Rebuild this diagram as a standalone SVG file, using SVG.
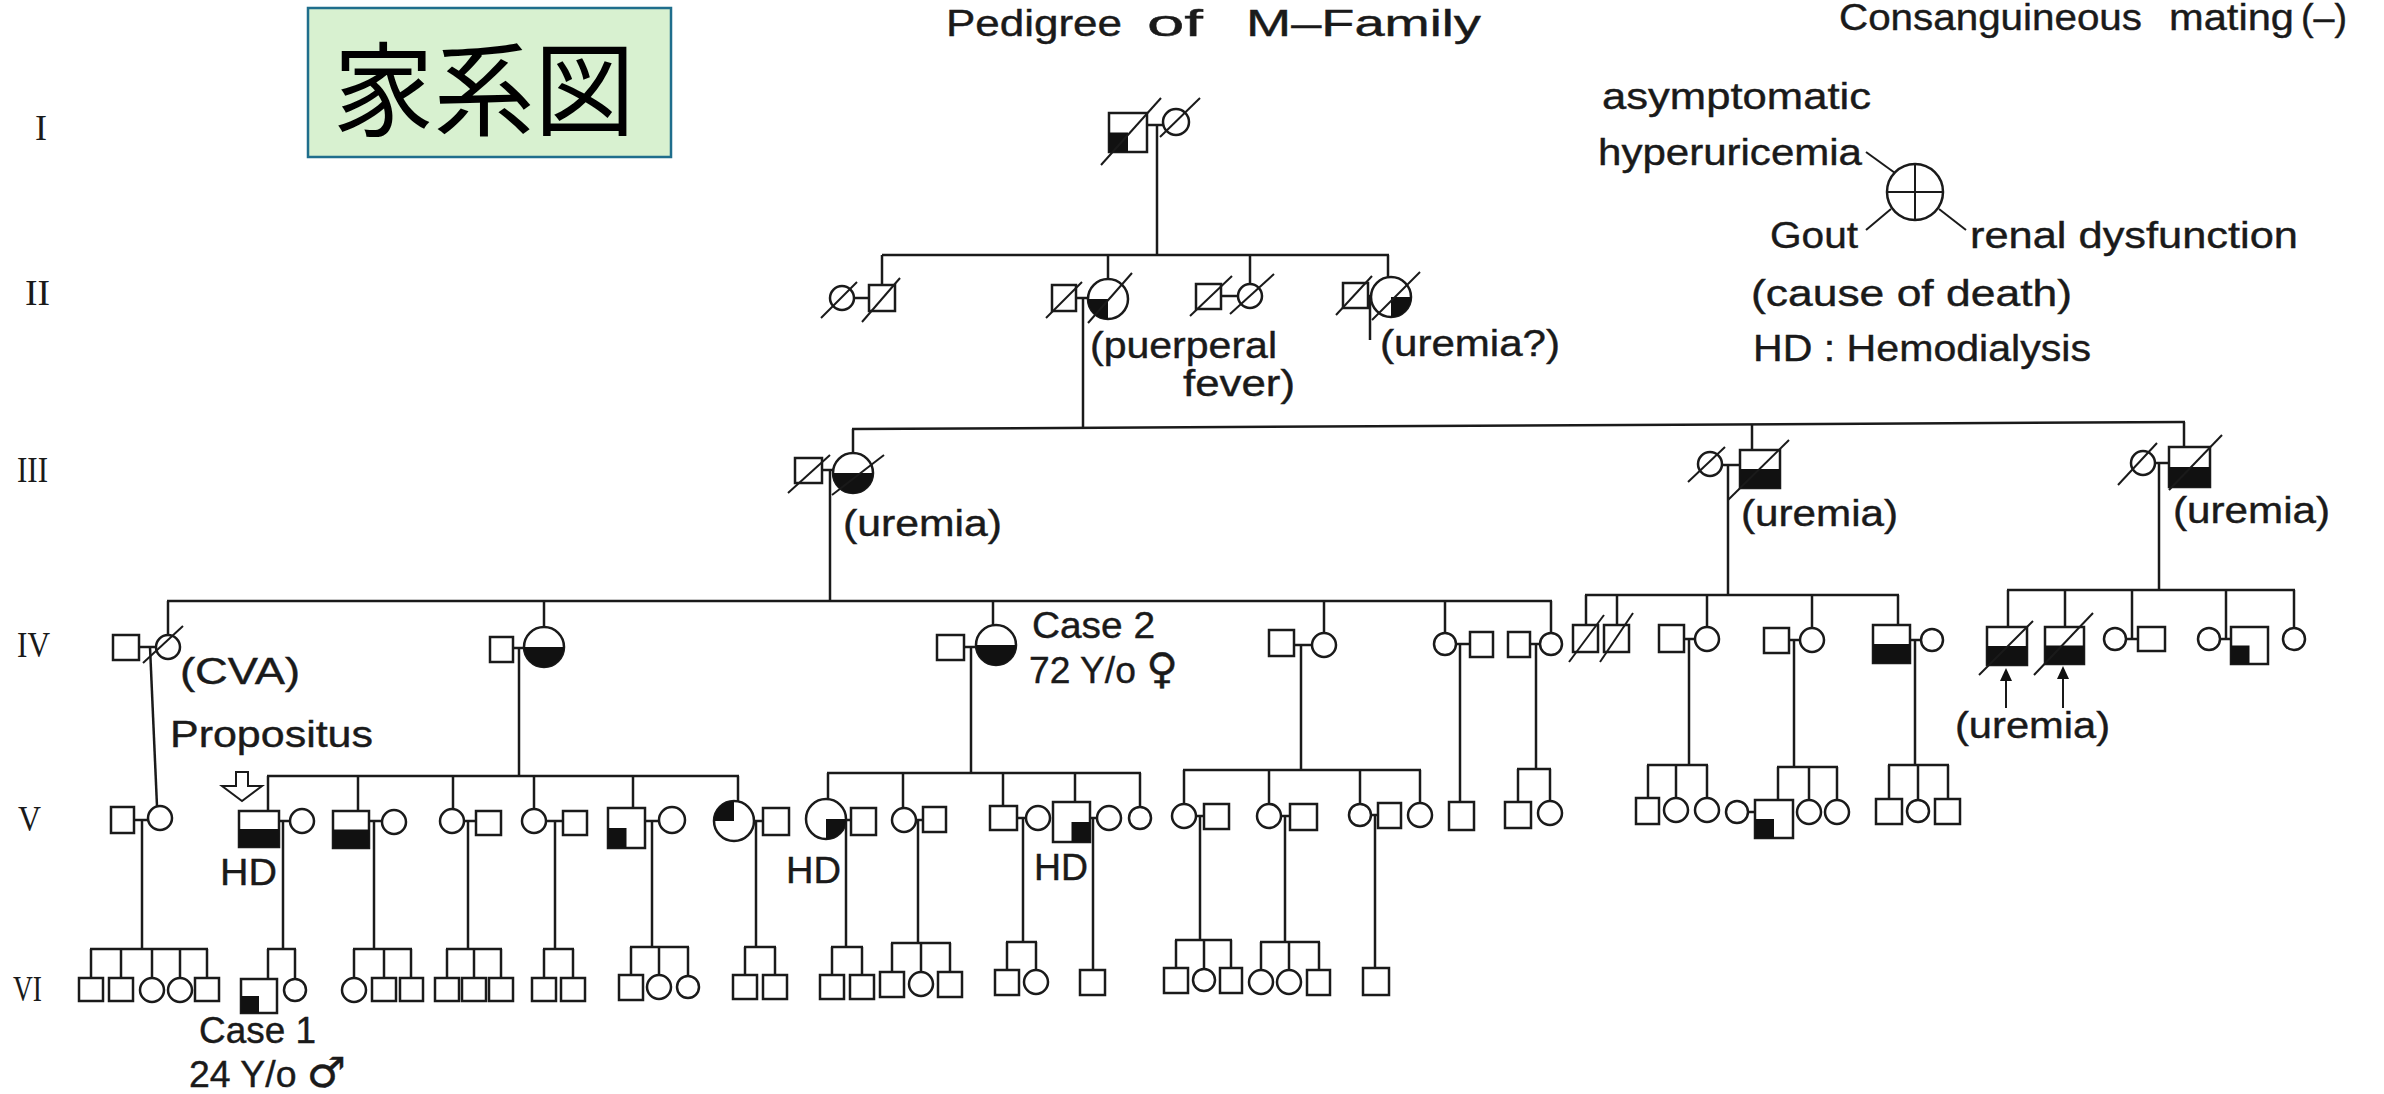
<svg xmlns="http://www.w3.org/2000/svg" width="2384" height="1094" viewBox="0 0 2384 1094">
<style>
.s{fill:#fff;stroke:#1a1a1a;stroke-width:2.5}
.b{fill:#111;stroke:none}
.d{stroke:#1a1a1a;stroke-width:2}
.c line{stroke:#1a1a1a;stroke-width:2.5}
.t{font-family:"Liberation Sans",Arial,"DejaVu Sans",sans-serif;font-size:36px;fill:#1a1a1a;stroke:#1a1a1a;stroke-width:0.4}
.r{font-family:"Liberation Serif","Times New Roman",serif;font-size:36px;fill:#1a1a1a}
.ln{stroke:#1a1a1a;stroke-width:2;fill:none}
.sym{font-family:"DejaVu Sans",sans-serif;font-size:42px}
</style>
<rect width="2384" height="1094" fill="#fff"/>

<g id="title-box">
<rect x="308" y="8" width="363" height="149" fill="#d8f1d0" stroke="#1f6e8c" stroke-width="2.5"/>
<text x="333" y="128" font-family="Noto Sans CJK JP,Noto Sans CJK SC,sans-serif" font-size="102" textLength="302" lengthAdjust="spacingAndGlyphs" fill="#000">家系図</text>
</g>

<g id="headings">
<text class="t" y="36" font-size="40"><tspan x="946" textLength="176" lengthAdjust="spacingAndGlyphs">Pedigree</tspan><tspan x="1147" textLength="56" lengthAdjust="spacingAndGlyphs">of</tspan><tspan x="1246" textLength="235" lengthAdjust="spacingAndGlyphs">M–Family</tspan></text>
<text class="t" y="30" font-size="26"><tspan x="1839" textLength="303" lengthAdjust="spacingAndGlyphs">Consanguineous</tspan><tspan x="2169" textLength="125" lengthAdjust="spacingAndGlyphs">mating</tspan><tspan x="2301" textLength="46" lengthAdjust="spacingAndGlyphs">(–)</tspan></text>
</g>

<g id="generation-labels">
<text class="r" x="41" y="140" text-anchor="middle">I</text>
<text class="r" x="25" y="305" textLength="25" lengthAdjust="spacingAndGlyphs">II</text>
<text class="r" x="17" y="482" textLength="31" lengthAdjust="spacingAndGlyphs">III</text>
<text class="r" x="17" y="657" textLength="33" lengthAdjust="spacingAndGlyphs">IV</text>
<text class="r" x="18" y="831" textLength="23" lengthAdjust="spacingAndGlyphs">V</text>
<text class="r" x="13" y="1001" textLength="29" lengthAdjust="spacingAndGlyphs">VI</text>
</g>

<g id="legend">
<text class="t" x="1602" y="109" textLength="269" lengthAdjust="spacingAndGlyphs">asymptomatic</text>
<text class="t" x="1598" y="165" textLength="264" lengthAdjust="spacingAndGlyphs">hyperuricemia</text>
<circle cx="1915" cy="192" r="28" class="s"/>
<line class="d" x1="1915" y1="164" x2="1915" y2="220"/>
<line class="d" x1="1887" y1="192" x2="1943" y2="192"/>
<line class="d" x1="1866" y1="152" x2="1895" y2="173"/>
<line class="d" x1="1891" y1="209" x2="1866" y2="230"/>
<line class="d" x1="1939" y1="209" x2="1966" y2="230"/>
<text class="t" x="1770" y="248" textLength="88" lengthAdjust="spacingAndGlyphs">Gout</text>
<text class="t" x="1970" y="248" textLength="328" lengthAdjust="spacingAndGlyphs">renal dysfunction</text>
<text class="t" x="1751" y="306" textLength="321" lengthAdjust="spacingAndGlyphs">(cause of death)</text>
<text class="t" x="1753" y="361" textLength="338" lengthAdjust="spacingAndGlyphs">HD : Hemodialysis</text>
</g>

<g id="connectors" class="c">
<line x1="1147" y1="125" x2="1163" y2="125"/>
<line x1="1157" y1="125" x2="1157" y2="255"/>
<line x1="882" y1="255" x2="1389" y2="255"/>
<line x1="882" y1="255" x2="882" y2="285"/>
<line x1="854" y1="298" x2="869" y2="298"/>
<line x1="1108" y1="255" x2="1108" y2="279"/>
<line x1="1076" y1="298" x2="1088" y2="298"/>
<line x1="1083" y1="298" x2="1083" y2="428"/>
<line x1="1250" y1="255" x2="1250" y2="284"/>
<line x1="1221" y1="296" x2="1238" y2="296"/>
<line x1="1388" y1="255" x2="1388" y2="277"/>
<line x1="1368" y1="296" x2="1372" y2="296"/>
<line x1="1370" y1="296" x2="1370" y2="340"/>
<line x1="852" y1="429" x2="2185" y2="422"/>
<line x1="853" y1="429" x2="853" y2="453"/>
<line x1="822" y1="470" x2="833" y2="470"/>
<line x1="830" y1="470" x2="830" y2="601"/>
<line x1="1752" y1="424" x2="1752" y2="450"/>
<line x1="1722" y1="465" x2="1740" y2="465"/>
<line x1="1728" y1="465" x2="1728" y2="595"/>
<line x1="2184" y1="422" x2="2184" y2="447"/>
<line x1="2155" y1="463" x2="2169" y2="463"/>
<line x1="2159" y1="463" x2="2159" y2="590"/>
<line x1="167" y1="601" x2="1552" y2="601"/>
<line x1="168" y1="601" x2="168" y2="635"/>
<line x1="139" y1="647" x2="156" y2="647"/>
<line x1="150" y1="647" x2="157" y2="806"/>
<line x1="544" y1="601" x2="544" y2="627"/>
<line x1="513" y1="648" x2="524" y2="648"/>
<line x1="519" y1="648" x2="519" y2="776"/>
<line x1="993" y1="601" x2="993" y2="625"/>
<line x1="964" y1="647" x2="976" y2="647"/>
<line x1="971" y1="647" x2="971" y2="773"/>
<line x1="1324" y1="601" x2="1324" y2="633"/>
<line x1="1294" y1="645" x2="1312" y2="645"/>
<line x1="1301" y1="645" x2="1301" y2="770"/>
<line x1="1445" y1="601" x2="1445" y2="633"/>
<line x1="1456" y1="644" x2="1470" y2="644"/>
<line x1="1460" y1="644" x2="1460" y2="802"/>
<line x1="1551" y1="601" x2="1551" y2="633"/>
<line x1="1530" y1="644" x2="1540" y2="644"/>
<line x1="1536" y1="644" x2="1536" y2="769"/>
<line x1="1585" y1="595" x2="1899" y2="595"/>
<line x1="1586" y1="595" x2="1586" y2="625"/>
<line x1="1617" y1="595" x2="1617" y2="625"/>
<line x1="1707" y1="595" x2="1707" y2="627"/>
<line x1="1684" y1="639" x2="1695" y2="639"/>
<line x1="1689" y1="639" x2="1689" y2="765"/>
<line x1="1812" y1="595" x2="1812" y2="628"/>
<line x1="1789" y1="640" x2="1800" y2="640"/>
<line x1="1794" y1="640" x2="1794" y2="767"/>
<line x1="1898" y1="595" x2="1898" y2="625"/>
<line x1="1910" y1="640" x2="1921" y2="640"/>
<line x1="1915" y1="640" x2="1915" y2="765"/>
<line x1="2007" y1="590" x2="2295" y2="590"/>
<line x1="2008" y1="590" x2="2008" y2="627"/>
<line x1="2065" y1="590" x2="2065" y2="627"/>
<line x1="2132" y1="590" x2="2132" y2="639"/>
<line x1="2126" y1="639" x2="2138" y2="639"/>
<line x1="2226" y1="590" x2="2226" y2="639"/>
<line x1="2220" y1="639" x2="2231" y2="639"/>
<line x1="2294" y1="590" x2="2294" y2="628"/>
<line x1="134" y1="820" x2="148" y2="820"/>
<line x1="142" y1="820" x2="142" y2="949"/>
<line x1="90" y1="949" x2="208" y2="949"/>
<line x1="91" y1="949" x2="91" y2="978"/>
<line x1="121" y1="949" x2="121" y2="978"/>
<line x1="152" y1="949" x2="152" y2="978"/>
<line x1="180" y1="949" x2="180" y2="978"/>
<line x1="207" y1="949" x2="207" y2="978"/>
<line x1="267" y1="776" x2="739" y2="776"/>
<line x1="268" y1="776" x2="268" y2="811"/>
<line x1="279" y1="821" x2="290" y2="821"/>
<line x1="283" y1="821" x2="283" y2="949"/>
<line x1="267" y1="949" x2="296" y2="949"/>
<line x1="268" y1="949" x2="268" y2="979"/>
<line x1="295" y1="949" x2="295" y2="979"/>
<line x1="358" y1="776" x2="358" y2="811"/>
<line x1="369" y1="821" x2="382" y2="821"/>
<line x1="374" y1="821" x2="374" y2="949"/>
<line x1="353" y1="949" x2="412" y2="949"/>
<line x1="354" y1="949" x2="354" y2="978"/>
<line x1="384" y1="949" x2="384" y2="978"/>
<line x1="411" y1="949" x2="411" y2="978"/>
<line x1="453" y1="776" x2="453" y2="809"/>
<line x1="464" y1="821" x2="476" y2="821"/>
<line x1="468" y1="821" x2="468" y2="949"/>
<line x1="446" y1="949" x2="502" y2="949"/>
<line x1="447" y1="949" x2="447" y2="978"/>
<line x1="474" y1="949" x2="474" y2="978"/>
<line x1="501" y1="949" x2="501" y2="978"/>
<line x1="534" y1="776" x2="534" y2="809"/>
<line x1="546" y1="821" x2="563" y2="821"/>
<line x1="555" y1="821" x2="555" y2="949"/>
<line x1="543" y1="949" x2="574" y2="949"/>
<line x1="544" y1="949" x2="544" y2="978"/>
<line x1="573" y1="949" x2="573" y2="978"/>
<line x1="633" y1="776" x2="633" y2="808"/>
<line x1="645" y1="821" x2="659" y2="821"/>
<line x1="652" y1="821" x2="652" y2="947"/>
<line x1="630" y1="947" x2="689" y2="947"/>
<line x1="631" y1="947" x2="631" y2="975"/>
<line x1="659" y1="947" x2="659" y2="975"/>
<line x1="688" y1="947" x2="688" y2="976"/>
<line x1="738" y1="776" x2="738" y2="801"/>
<line x1="754" y1="821" x2="763" y2="821"/>
<line x1="756" y1="821" x2="756" y2="947"/>
<line x1="744" y1="947" x2="776" y2="947"/>
<line x1="745" y1="947" x2="745" y2="975"/>
<line x1="775" y1="947" x2="775" y2="975"/>
<line x1="827" y1="773" x2="1141" y2="773"/>
<line x1="828" y1="773" x2="828" y2="799"/>
<line x1="846" y1="820" x2="851" y2="820"/>
<line x1="846" y1="820" x2="846" y2="947"/>
<line x1="831" y1="947" x2="863" y2="947"/>
<line x1="832" y1="947" x2="832" y2="975"/>
<line x1="862" y1="947" x2="862" y2="975"/>
<line x1="903" y1="773" x2="903" y2="808"/>
<line x1="916" y1="820" x2="923" y2="820"/>
<line x1="918" y1="820" x2="918" y2="943"/>
<line x1="891" y1="943" x2="951" y2="943"/>
<line x1="892" y1="943" x2="892" y2="972"/>
<line x1="921" y1="943" x2="921" y2="972"/>
<line x1="950" y1="943" x2="950" y2="972"/>
<line x1="1003" y1="773" x2="1003" y2="806"/>
<line x1="1017" y1="818" x2="1026" y2="818"/>
<line x1="1023" y1="818" x2="1023" y2="942"/>
<line x1="1006" y1="942" x2="1037" y2="942"/>
<line x1="1007" y1="942" x2="1007" y2="970"/>
<line x1="1036" y1="942" x2="1036" y2="970"/>
<line x1="1075" y1="773" x2="1075" y2="802"/>
<line x1="1090" y1="818" x2="1097" y2="818"/>
<line x1="1093" y1="818" x2="1093" y2="970"/>
<line x1="1140" y1="773" x2="1140" y2="807"/>
<line x1="1183" y1="770" x2="1421" y2="770"/>
<line x1="1184" y1="770" x2="1184" y2="804"/>
<line x1="1196" y1="816" x2="1204" y2="816"/>
<line x1="1200" y1="816" x2="1200" y2="940"/>
<line x1="1175" y1="940" x2="1232" y2="940"/>
<line x1="1176" y1="940" x2="1176" y2="968"/>
<line x1="1204" y1="940" x2="1204" y2="969"/>
<line x1="1231" y1="940" x2="1231" y2="968"/>
<line x1="1269" y1="770" x2="1269" y2="804"/>
<line x1="1281" y1="816" x2="1290" y2="816"/>
<line x1="1285" y1="816" x2="1285" y2="942"/>
<line x1="1260" y1="942" x2="1320" y2="942"/>
<line x1="1261" y1="942" x2="1261" y2="970"/>
<line x1="1289" y1="942" x2="1289" y2="970"/>
<line x1="1319" y1="942" x2="1319" y2="970"/>
<line x1="1360" y1="770" x2="1360" y2="804"/>
<line x1="1371" y1="815" x2="1378" y2="815"/>
<line x1="1375" y1="815" x2="1375" y2="968"/>
<line x1="1420" y1="770" x2="1420" y2="803"/>
<line x1="1517" y1="769" x2="1551" y2="769"/>
<line x1="1518" y1="769" x2="1518" y2="802"/>
<line x1="1550" y1="769" x2="1550" y2="801"/>
<line x1="1647" y1="765" x2="1708" y2="765"/>
<line x1="1648" y1="765" x2="1648" y2="798"/>
<line x1="1676" y1="765" x2="1676" y2="798"/>
<line x1="1707" y1="765" x2="1707" y2="798"/>
<line x1="1748" y1="812" x2="1755" y2="812"/>
<line x1="1777" y1="767" x2="1838" y2="767"/>
<line x1="1778" y1="767" x2="1778" y2="800"/>
<line x1="1809" y1="767" x2="1809" y2="800"/>
<line x1="1837" y1="767" x2="1837" y2="800"/>
<line x1="1888" y1="765" x2="1949" y2="765"/>
<line x1="1889" y1="765" x2="1889" y2="799"/>
<line x1="1918" y1="765" x2="1918" y2="800"/>
<line x1="1948" y1="765" x2="1948" y2="799"/>
</g>

<g id="I-1"><rect class="s" x="1109" y="113" width="38" height="39"/><rect class="b" x="1109" y="132.5" width="19" height="19.5"/><line class="d" x1="1101" y1="165" x2="1161" y2="98"/></g>
<g id="I-2"><circle class="s" cx="1176" cy="122" r="13"/><line class="d" x1="1160" y1="137" x2="1200" y2="98"/></g>

<g id="II-1s"><circle class="s" cx="842" cy="298" r="12"/><line class="d" x1="821" y1="318" x2="857" y2="282"/></g>
<g id="II-1"><rect class="s" x="869" y="285" width="26" height="26"/><line class="d" x1="862" y1="322" x2="900" y2="278"/></g>
<g id="II-2s"><rect class="s" x="1052" y="285" width="24" height="26"/><line class="d" x1="1046" y1="318" x2="1082" y2="282"/></g>
<g id="II-2"><circle class="s" cx="1108" cy="299" r="20"/><path class="b" d="M1108,299 L1088,299 A20,20 0 0 0 1108,319 Z"/><line class="d" x1="1088" y1="323" x2="1132" y2="273"/></g>
<g id="II-3s"><rect class="s" x="1196" y="284" width="25" height="25"/><line class="d" x1="1190" y1="316" x2="1232" y2="276"/></g>
<g id="II-3"><circle class="s" cx="1250" cy="296" r="12"/><line class="d" x1="1230" y1="314" x2="1274" y2="274"/></g>
<g id="II-4s"><rect class="s" x="1343" y="283" width="25" height="25"/><line class="d" x1="1336" y1="315" x2="1372" y2="276"/></g>
<g id="II-4"><circle class="s" cx="1391" cy="297" r="20"/><path class="b" d="M1391,297 L1391,317 A20,20 0 0 0 1411,297 Z"/><line class="d" x1="1372" y1="320" x2="1420" y2="272"/></g>
<g id="labels-II">
<text class="t" x="1090" y="358" textLength="187" lengthAdjust="spacingAndGlyphs">(puerperal</text>
<text class="t" x="1183" y="396" textLength="112" lengthAdjust="spacingAndGlyphs">fever)</text>
<text class="t" x="1380" y="356" textLength="180" lengthAdjust="spacingAndGlyphs">(uremia?)</text>
</g>

<g id="III-1s"><rect class="s" x="795" y="458" width="27" height="25"/><line class="d" x1="788" y1="493" x2="830" y2="455"/></g>
<g id="III-1"><circle class="s" cx="853" cy="473" r="20"/><path class="b" d="M833,473 A20,20 0 0 0 873,473 Z"/><line class="d" x1="832" y1="495" x2="884" y2="455"/></g>
<g id="III-2s"><circle class="s" cx="1710" cy="464" r="12"/><line class="d" x1="1688" y1="482" x2="1725" y2="447"/></g>
<g id="III-2"><rect class="s" x="1740" y="450" width="40" height="38"/><rect class="b" x="1740" y="469" width="40" height="19"/><line class="d" x1="1728" y1="500" x2="1789" y2="440"/></g>
<g id="III-3s"><circle class="s" cx="2143" cy="463" r="12"/><line class="d" x1="2118" y1="485" x2="2157" y2="443"/></g>
<g id="III-3"><rect class="s" x="2169" y="447" width="41" height="40"/><rect class="b" x="2169" y="467" width="41" height="20"/><line class="d" x1="2169" y1="490" x2="2222" y2="435"/></g>
<g id="labels-III">
<text class="t" x="843" y="536" textLength="159" lengthAdjust="spacingAndGlyphs">(uremia)</text>
<text class="t" x="1741" y="526" textLength="157" lengthAdjust="spacingAndGlyphs">(uremia)</text>
<text class="t" x="2173" y="523" textLength="157" lengthAdjust="spacingAndGlyphs">(uremia)</text>
</g>

<g id="IV-1s"><rect class="s" x="113" y="635" width="26" height="25"/></g>
<g id="IV-1"><circle class="s" cx="168" cy="647" r="12"/><line class="d" x1="143" y1="663" x2="183" y2="626"/></g>
<g id="IV-2s"><rect class="s" x="490" y="637" width="23" height="25"/></g>
<g id="IV-2"><circle class="s" cx="544" cy="647" r="20"/><path class="b" d="M524,647 A20,20 0 0 0 564,647 Z"/></g>
<g id="IV-3s"><rect class="s" x="937" y="635" width="27" height="25"/></g>
<g id="IV-3"><circle class="s" cx="996" cy="645" r="20"/><path class="b" d="M976,645 A20,20 0 0 0 1016,645 Z"/></g>
<g id="IV-4s"><rect class="s" x="1269" y="630" width="25" height="26"/></g>
<g id="IV-4"><circle class="s" cx="1324" cy="645" r="12"/></g>
<g id="IV-5"><circle class="s" cx="1445" cy="644" r="11"/></g>
<g id="IV-5s"><rect class="s" x="1470" y="632" width="23" height="25"/></g>
<g id="IV-6s"><rect class="s" x="1508" y="632" width="22" height="25"/></g>
<g id="IV-6"><circle class="s" cx="1551" cy="644" r="11"/></g>
<g id="IV-7"><rect class="s" x="1573" y="625" width="25" height="27"/><line class="d" x1="1569" y1="662" x2="1604" y2="615"/></g>
<g id="IV-8"><rect class="s" x="1604" y="625" width="25" height="27"/><line class="d" x1="1600" y1="662" x2="1633" y2="613"/></g>
<g id="IV-9s"><rect class="s" x="1659" y="625" width="25" height="27"/></g>
<g id="IV-9"><circle class="s" cx="1707" cy="639" r="12"/></g>
<g id="IV-10s"><rect class="s" x="1764" y="628" width="25" height="25"/></g>
<g id="IV-10"><circle class="s" cx="1812" cy="640" r="12"/></g>
<g id="IV-11"><rect class="s" x="1873" y="625" width="37" height="38"/><rect class="b" x="1873" y="644" width="37" height="19"/></g>
<g id="IV-11s"><circle class="s" cx="1932" cy="640" r="11"/></g>
<g id="IV-12"><rect class="s" x="1987" y="627" width="40" height="38"/><rect class="b" x="1987" y="646" width="40" height="19"/><line class="d" x1="1979" y1="675" x2="2033" y2="621"/></g>
<g id="IV-13"><rect class="s" x="2045" y="627" width="39" height="37"/><rect class="b" x="2045" y="645.5" width="39" height="18.5"/><line class="d" x1="2034" y1="675" x2="2093" y2="613"/></g>
<g id="IV-14"><circle class="s" cx="2115" cy="639" r="11"/></g>
<g id="IV-14s"><rect class="s" x="2138" y="627" width="27" height="24"/></g>
<g id="IV-15s"><circle class="s" cx="2209" cy="639" r="11"/></g>
<g id="IV-15"><rect class="s" x="2231" y="627" width="37" height="37"/><rect class="b" x="2231" y="645.5" width="18.5" height="18.5"/></g>
<g id="IV-16"><circle class="s" cx="2294" cy="639" r="11"/></g>
<g id="labels-IV">
<text class="t" x="180" y="684" textLength="120" lengthAdjust="spacingAndGlyphs">(CVA)</text>
<text class="t" x="1032" y="638" textLength="123" lengthAdjust="spacingAndGlyphs">Case 2</text>
<text class="t" x="1029" y="683" textLength="149" lengthAdjust="spacingAndGlyphs">72 Y/o <tspan class="sym">♀</tspan></text>
<line class="d" x1="2006" y1="708" x2="2006" y2="678"/><path class="b" d="M2000,681 L2012,681 L2006,668 Z"/>
<line class="d" x1="2063" y1="708" x2="2063" y2="676"/><path class="b" d="M2057,679 L2069,679 L2063,666 Z"/>
<text class="t" x="1955" y="738" textLength="155" lengthAdjust="spacingAndGlyphs">(uremia)</text>
</g>

<g id="V-1s"><rect class="s" x="111" y="807" width="23" height="26"/></g>
<g id="V-1"><circle class="s" cx="160" cy="818" r="12"/></g>
<g id="V-2"><rect class="s" x="239" y="811" width="40" height="36"/><rect class="b" x="239" y="829" width="40" height="18"/></g>
<g id="V-2s"><circle class="s" cx="302" cy="821" r="12"/></g>
<g id="V-3"><rect class="s" x="333" y="811" width="36" height="37"/><rect class="b" x="333" y="829.5" width="36" height="18.5"/></g>
<g id="V-3s"><circle class="s" cx="394" cy="822" r="12"/></g>
<g id="V-4"><circle class="s" cx="452" cy="821" r="12"/></g>
<g id="V-4s"><rect class="s" x="476" y="811" width="25" height="24"/></g>
<g id="V-5"><circle class="s" cx="534" cy="821" r="12"/></g>
<g id="V-5s"><rect class="s" x="563" y="811" width="24" height="24"/></g>
<g id="V-6"><rect class="s" x="608" y="808" width="37" height="40"/><rect class="b" x="608" y="828" width="18.5" height="20"/></g>
<g id="V-6s"><circle class="s" cx="672" cy="820" r="13"/></g>
<g id="V-7"><circle class="s" cx="734" cy="821" r="20"/><path class="b" d="M734,821 L734,801 A20,20 0 0 0 714,821 Z"/></g>
<g id="V-7s"><rect class="s" x="763" y="808" width="26" height="27"/></g>
<g id="V-8"><circle class="s" cx="826" cy="819" r="20"/><path class="b" d="M826,819 L826,839 A20,20 0 0 0 846,819 Z"/></g>
<g id="V-8s"><rect class="s" x="851" y="808" width="25" height="27"/></g>
<g id="V-9"><circle class="s" cx="904" cy="820" r="12"/></g>
<g id="V-9s"><rect class="s" x="923" y="807" width="23" height="25"/></g>
<g id="V-10"><rect class="s" x="990" y="806" width="27" height="24"/></g>
<g id="V-10s"><circle class="s" cx="1038" cy="818" r="12"/></g>
<g id="V-11"><rect class="s" x="1053" y="802" width="37" height="40"/><rect class="b" x="1071.5" y="822" width="18.5" height="20"/></g>
<g id="V-11s"><circle class="s" cx="1109" cy="818" r="12"/></g>
<g id="V-12"><circle class="s" cx="1140" cy="818" r="11"/></g>
<g id="V-13"><circle class="s" cx="1184" cy="816" r="12"/></g>
<g id="V-13s"><rect class="s" x="1204" y="804" width="25" height="25"/></g>
<g id="V-14"><circle class="s" cx="1269" cy="816" r="12"/></g>
<g id="V-14s"><rect class="s" x="1290" y="804" width="27" height="26"/></g>
<g id="V-15"><circle class="s" cx="1360" cy="815" r="11"/></g>
<g id="V-15s"><rect class="s" x="1378" y="803" width="23" height="25"/></g>
<g id="V-16"><circle class="s" cx="1420" cy="815" r="12"/></g>
<g id="V-17"><rect class="s" x="1449" y="802" width="25" height="28"/></g>
<g id="V-18"><rect class="s" x="1505" y="802" width="26" height="26"/></g>
<g id="V-19"><circle class="s" cx="1550" cy="813" r="12"/></g>
<g id="V-20"><rect class="s" x="1636" y="798" width="23" height="26"/></g>
<g id="V-21"><circle class="s" cx="1676" cy="810" r="12"/></g>
<g id="V-22"><circle class="s" cx="1707" cy="810" r="12"/></g>
<g id="V-23s"><circle class="s" cx="1737" cy="812" r="11"/></g>
<g id="V-23"><rect class="s" x="1755" y="800" width="38" height="38"/><rect class="b" x="1755" y="819" width="19" height="19"/></g>
<g id="V-24"><circle class="s" cx="1809" cy="812" r="12"/></g>
<g id="V-25"><circle class="s" cx="1837" cy="812" r="12"/></g>
<g id="V-26"><rect class="s" x="1876" y="799" width="26" height="25"/></g>
<g id="V-27"><circle class="s" cx="1918" cy="811" r="11"/></g>
<g id="V-28"><rect class="s" x="1935" y="799" width="25" height="25"/></g>
<g id="labels-V">
<text class="t" x="170" y="747" font-size="33" textLength="203" lengthAdjust="spacingAndGlyphs">Propositus</text>
<path class="ln" d="M236,772 L248,772 L248,786 L262,786 L242,801 L222,786 L236,786 Z"/>
<text class="t" x="220" y="885" font-size="39" textLength="57" lengthAdjust="spacingAndGlyphs">HD</text>
<text class="t" x="786" y="883" font-size="39" textLength="55" lengthAdjust="spacingAndGlyphs">HD</text>
<text class="t" x="1034" y="880" font-size="39" textLength="54" lengthAdjust="spacingAndGlyphs">HD</text>
</g>

<g id="VI-1"><rect class="s" x="79" y="978" width="24" height="23"/></g>
<g id="VI-2"><rect class="s" x="109" y="978" width="24" height="23"/></g>
<g id="VI-3"><circle class="s" cx="152" cy="990" r="12"/></g>
<g id="VI-4"><circle class="s" cx="180" cy="990" r="12"/></g>
<g id="VI-5"><rect class="s" x="195" y="978" width="24" height="23"/></g>
<g id="VI-6"><rect class="s" x="241" y="979" width="36" height="34"/><rect class="b" x="241" y="996" width="18" height="17"/></g>
<g id="VI-7"><circle class="s" cx="295" cy="990" r="11"/></g>
<g id="VI-8"><circle class="s" cx="354" cy="990" r="12"/></g>
<g id="VI-9"><rect class="s" x="372" y="978" width="24" height="23"/></g>
<g id="VI-10"><rect class="s" x="400" y="978" width="23" height="23"/></g>
<g id="VI-11"><rect class="s" x="435" y="978" width="24" height="23"/></g>
<g id="VI-12"><rect class="s" x="462" y="978" width="24" height="23"/></g>
<g id="VI-13"><rect class="s" x="489" y="978" width="24" height="23"/></g>
<g id="VI-14"><rect class="s" x="532" y="978" width="24" height="23"/></g>
<g id="VI-15"><rect class="s" x="561" y="978" width="24" height="23"/></g>
<g id="VI-16"><rect class="s" x="619" y="975" width="24" height="25"/></g>
<g id="VI-17"><circle class="s" cx="659" cy="987" r="12"/></g>
<g id="VI-18"><circle class="s" cx="688" cy="987" r="11"/></g>
<g id="VI-19"><rect class="s" x="733" y="975" width="24" height="24"/></g>
<g id="VI-20"><rect class="s" x="763" y="975" width="24" height="24"/></g>
<g id="VI-21"><rect class="s" x="820" y="975" width="24" height="24"/></g>
<g id="VI-22"><rect class="s" x="850" y="975" width="24" height="24"/></g>
<g id="VI-23"><rect class="s" x="880" y="972" width="24" height="25"/></g>
<g id="VI-24"><circle class="s" cx="921" cy="984" r="12"/></g>
<g id="VI-25"><rect class="s" x="938" y="972" width="24" height="25"/></g>
<g id="VI-26"><rect class="s" x="995" y="970" width="24" height="25"/></g>
<g id="VI-27"><circle class="s" cx="1036" cy="982" r="12"/></g>
<g id="VI-28"><rect class="s" x="1080" y="970" width="25" height="25"/></g>
<g id="VI-29"><rect class="s" x="1164" y="968" width="24" height="25"/></g>
<g id="VI-30"><circle class="s" cx="1204" cy="980" r="11"/></g>
<g id="VI-31"><rect class="s" x="1220" y="968" width="22" height="25"/></g>
<g id="VI-32"><circle class="s" cx="1261" cy="982" r="12"/></g>
<g id="VI-33"><circle class="s" cx="1289" cy="982" r="12"/></g>
<g id="VI-34"><rect class="s" x="1307" y="970" width="23" height="25"/></g>
<g id="VI-35"><rect class="s" x="1363" y="968" width="26" height="27"/></g>
<g id="labels-VI">
<text class="t" x="199" y="1043" font-size="37" textLength="117" lengthAdjust="spacingAndGlyphs">Case 1</text>
<text class="t" x="189" y="1087" font-size="37" textLength="157" lengthAdjust="spacingAndGlyphs">24 Y/o <tspan class="sym">♂</tspan></text>
</g>
</svg>
